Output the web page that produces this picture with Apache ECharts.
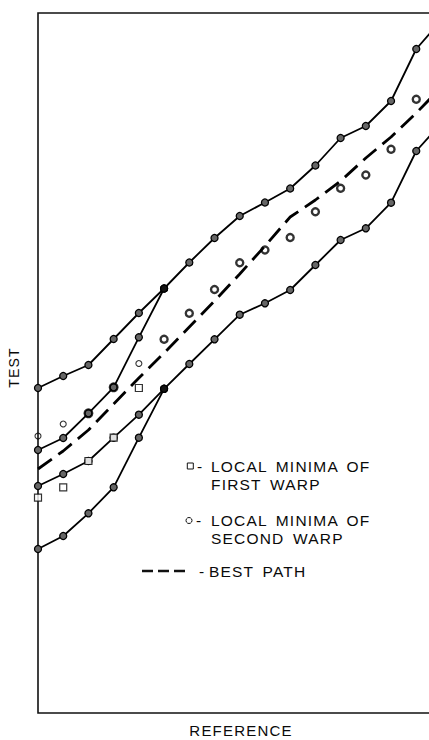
<!DOCTYPE html>
<html>
<head>
<meta charset="utf-8">
<style>
  html, body { margin: 0; padding: 0; background: #fff; overflow: hidden; width: 429px; height: 740px; }
  #chart { width: 446px; height: 740px; }
  #chart text { letter-spacing: 1.2px; word-spacing: 3px; }
</style>
<script src="https://cdn.jsdelivr.net/npm/echarts@6/dist/echarts.min.js"></script>
</head>
<body>
<div id="chart"></div>
<script>
// Reference frame index (x) and TEST position (y)
const frameIndex   = [0,1,2,3,4,5,6,7,8,9,10,11,12,13,14,15,16];
const upperBound   = [32.5,33.7,34.8,37.4,40.0,42.45,45.05,47.5,49.7,51.05,52.45,54.75,57.5,58.7,61.2,66.4,69.3];
const upperInner   = [26.3,27.5,29.97,32.57,37.57,42.45];
const lowerInner   = [22.7,23.9,25.2,27.53,29.83,32.42];
const lowerBound   = [16.4,17.7,19.97,22.57,27.53,32.42,34.9,37.37,39.83,40.97,42.3,44.8,47.3,48.47,51.03,56.2,59.0];
const bestPath     = [24.4,26.2,28.3,30.9,33.5,36.0,38.6,41.2,43.9,46.7,49.6,51.3,53.2,55.5,57.6,60.0,62.6];
const secondWarp   = [27.7,28.9,29.97,32.57,34.95,37.37,39.97,42.35,45.03,46.3,47.55,50.13,52.47,53.8,56.38,61.37];
const firstWarp    = [21.53,22.57,25.2,27.53,32.5];
const junctionIdx  = [5];

const legendLines = {
  first: ['LOCAL MINIMA OF', 'FIRST WARP'],
  second: ['LOCAL MINIMA OF', 'SECOND WARP'],
  best: 'BEST PATH'
};
const xName = 'REFERENCE';
const yName = 'TEST';

// style groups (not data)
const thinCircleIdx = [0,1,4];
const ringedIdx = [2,3];

const pairs = (arr) => arr.map((v, i) => [frameIndex[i], v]);

const hatchedLine = (name, arr) => ({
  name, type: 'line', data: pairs(arr),
  symbol: 'circle', symbolSize: 7, showAllSymbol: true,
  itemStyle: { color: '#666', borderColor: '#000', borderWidth: 1.3 },
  lineStyle: { color: '#000', width: 1.8 },
  z: 3, silent: true
});

const circleData = secondWarp.map((v, i) => {
  let size = 7, bw = 2.4;
  if (thinCircleIdx.includes(i)) { size = 6; bw = 1.1; }
  else if (ringedIdx.includes(i)) { size = 8; bw = 2; }
  return { value: [frameIndex[i], v], symbolSize: size,
           itemStyle: { color: 'rgba(255,255,255,0)', borderColor: '#000', borderWidth: bw } };
});

const junctionData = [];
junctionIdx.forEach(i => {
  junctionData.push([frameIndex[i], upperBound[i]]);
  junctionData.push([frameIndex[i], lowerBound[i]]);
});

const FONT = '"Liberation Sans", Arial, sans-serif';
const txt = (x, y, s, size) => ({
  type: 'text', x, y,
  style: { text: s, fill: '#0a0a0a', font: (size || 15.5) + 'px ' + FONT,
           textAlign: 'left', textVerticalAlign: 'middle' }
});

const chart = echarts.init(document.getElementById('chart'), null, { renderer: 'svg' });
chart.setOption({
  animation: false,
  backgroundColor: '#fff',
  grid: { left: 38, right: 2, top: 13, bottom: 27, show: true, outerBoundsMode: 'none',
          borderColor: '#111', borderWidth: 1.6, backgroundColor: 'transparent' },
  xAxis: {
    type: 'value', min: 0, max: 16.1,
    axisLine: { show: false }, axisTick: { show: false }, axisLabel: { show: false },
    splitLine: { show: false },
    name: xName, nameLocation: 'middle', nameGap: 10,
    nameTextStyle: { color: '#0a0a0a', fontSize: 15, fontFamily: FONT }
  },
  yAxis: {
    type: 'value', min: 0, max: 70,
    axisLine: { show: false }, axisTick: { show: false }, axisLabel: { show: false },
    splitLine: { show: false },
    name: yName, nameLocation: 'middle', nameGap: 17, nameRotate: 90,
    nameTextStyle: { color: '#0a0a0a', fontSize: 14, fontFamily: FONT,
                     padding: [0, 9, 0, 0] }
  },
  series: [
    hatchedLine('upperBound', upperBound),
    hatchedLine('upperInner', upperInner),
    hatchedLine('lowerInner', lowerInner),
    hatchedLine('lowerBound', lowerBound),
    {
      name: 'bestPath', type: 'line', data: pairs(bestPath), showSymbol: false,
      lineStyle: { color: '#000', width: 2.8, type: [17, 8] }, z: 2, silent: true
    },
    {
      name: 'junction', type: 'scatter', data: junctionData, symbol: 'circle', symbolSize: 8,
      itemStyle: { color: '#000' }, z: 4, silent: true
    },
    {
      name: 'firstWarp', type: 'scatter', data: pairs(firstWarp), symbol: 'rect', symbolSize: 7,
      itemStyle: { color: '#fff', borderColor: '#000', borderWidth: 1.2 }, z: 5, silent: true
    },
    {
      name: 'secondWarp', type: 'scatter', data: circleData, symbol: 'circle',
      z: 6, silent: true
    }
  ],
  graphic: [
    { type: 'rect', shape: { x: 187.3, y: 463, width: 6, height: 6 },
      style: { fill: '#fff', stroke: '#111', lineWidth: 1 } },
    txt(197, 466, '-'),
    txt(211, 466, legendLines.first[0]),
    txt(211, 484.7, legendLines.first[1]),
    { type: 'circle', shape: { cx: 189, cy: 520.5, r: 3 },
      style: { fill: '#fff', stroke: '#111', lineWidth: 1 } },
    txt(196, 520.5, '-'),
    txt(211, 520.5, legendLines.second[0]),
    txt(211, 538.7, legendLines.second[1]),
    { type: 'line', shape: { x1: 142, y1: 571, x2: 190, y2: 571 },
      style: { stroke: '#111', lineWidth: 2.6, lineDash: [11, 5] } },
    txt(199, 571, '-'),
    txt(209, 571, legendLines.best)
  ]
});
</script>
</body>
</html>
